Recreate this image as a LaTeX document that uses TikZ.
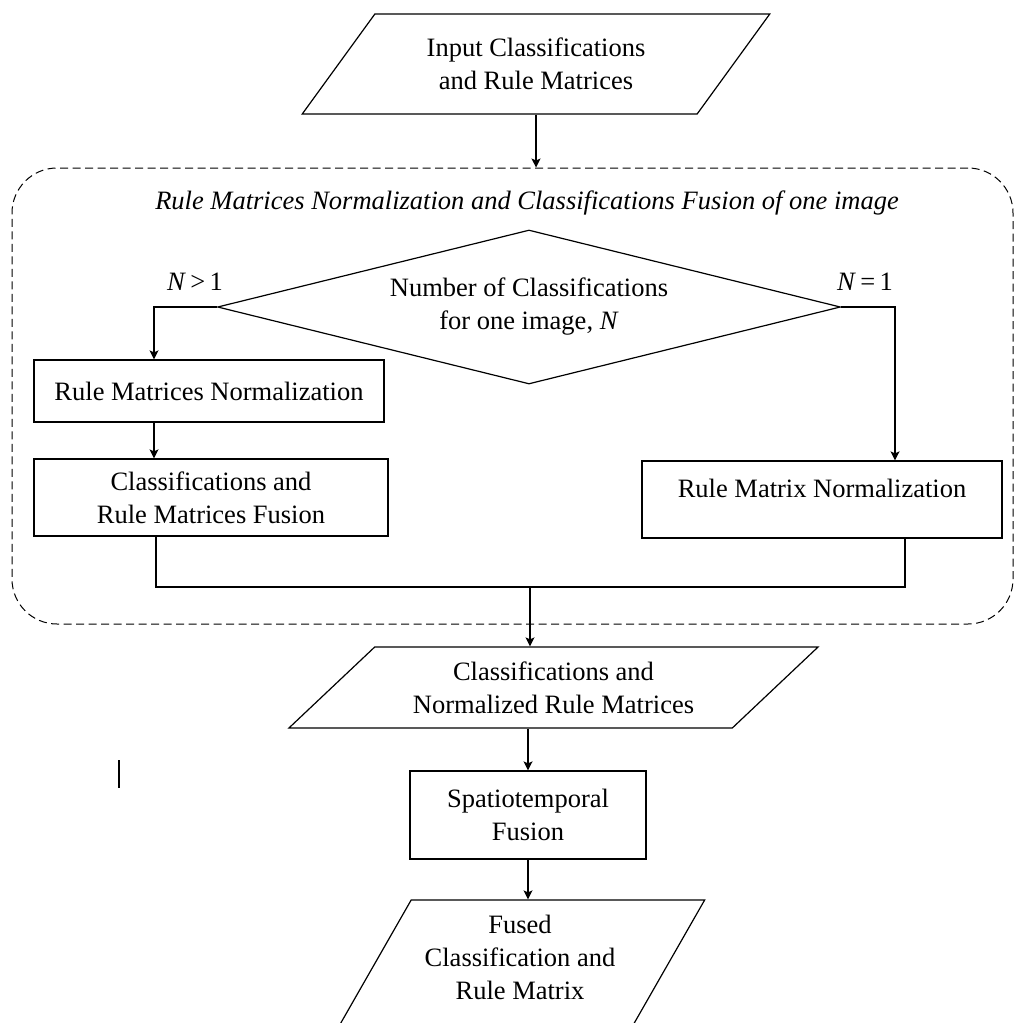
\documentclass[tikz,border=0pt]{standalone}
\usepackage{fontspec}
\setmainfont{Liberation Serif}
\usepackage{tikz}
\usetikzlibrary{shapes.geometric, arrows.meta, positioning, calc}

\begin{document}
\begin{tikzpicture}[x=1pt, y=-1pt,
  font=\fontsize{26.5}{33}\selectfont,
  proc/.style={rectangle, draw, line width=1.2pt, align=center, inner sep=0pt},
  io/.style={trapezium, draw, line width=1.2pt, align=center, inner sep=0pt,
             trapezium stretches=true},
  dec/.style={diamond, draw, line width=1.2pt, align=center, inner sep=0pt,
              shape aspect=4},
  grp/.style={rectangle, draw, dashed, dash pattern=on 8pt off 4.5pt,
              line width=1pt, rounded corners=45pt},
  arr/.style={-{Stealth[length=9pt, width=9pt, inset=2pt]}, line width=1.2pt}
]
\useasboundingbox (0,0) rectangle (1017,1023);
\clip (0,0) rectangle (1017,1023);
\node[io, trapezium left angle=46.5, trapezium right angle=133.5,
      minimum width=469pt, minimum height=100pt] (in1) at (536,64)
      {Input Classifications\\and Rule Matrices};
\node[grp, minimum width=1001pt, minimum height=456pt] (grp) at (512.5,396) {};
\node[font=\fontsize{26.5}{33}\selectfont\itshape] (title) at (527,203)
      {Rule Matrices Normalization and Classifications Fusion of one image};
\node[dec, minimum width=623pt, minimum height=154pt] (num) at (529,307)
      {Number of Classifications\\for one image, \textit{N}};
\node (gt) at (195,282) {\textit{N}\,>\,1};
\node (eq) at (865,282) {\textit{N}\,=\,1};
\node[proc, minimum width=350pt, minimum height=62pt] (rmn) at (209,391)
      {Rule Matrices Normalization};
\node[proc, minimum width=354pt, minimum height=77pt] (crf) at (211,497.5)
      {Classifications and\\Rule Matrices Fusion};
\node[proc, minimum width=360pt, minimum height=77pt, text depth=23pt] (rxn)
      at (822,499.5) {Rule Matrix Normalization};
\coordinate (join) at (530,587);
\node[io, trapezium left angle=37.6, trapezium right angle=142.4,
      minimum width=531pt, minimum height=81pt] (out1) at (553.5,687.5)
      {Classifications and\\Normalized Rule Matrices};
\node[proc, minimum width=236pt, minimum height=88pt] (st) at (528,815)
      {Spatiotemporal\\Fusion};
\node[io, trapezium left angle=60.7, trapezium right angle=119.3,
      minimum width=380pt, minimum height=150pt] (out2) at (515,975)
      {\phantom{M}};
\node[align=center] (out2t) at (520,957) {Fused\\Classification and\\Rule Matrix};
\draw[arr] (in1.south) -- (in1.south |- grp.north);
\draw[arr] (num.west) -| ([xshift=-55pt]rmn.north);
\draw[arr] (num.east) -| ([xshift=73pt]rxn.north);
\draw[arr] ([xshift=-55pt]rmn.south) -- ([xshift=-55pt]rmn.south |- crf.north);
\draw[line width=1.2pt] ([xshift=-55pt]crf.south) |- (join) -| ([xshift=83pt]rxn.south);
\draw[arr] (join) -- (join |- out1.north);
\draw[arr] (out1.south -| st.north) -- (st.north);
\draw[arr] (st.south) -- (st.south |- out2.north);
\draw[line width=1.2pt] (119,760) -- (119,788);
\end{tikzpicture}
\end{document}
